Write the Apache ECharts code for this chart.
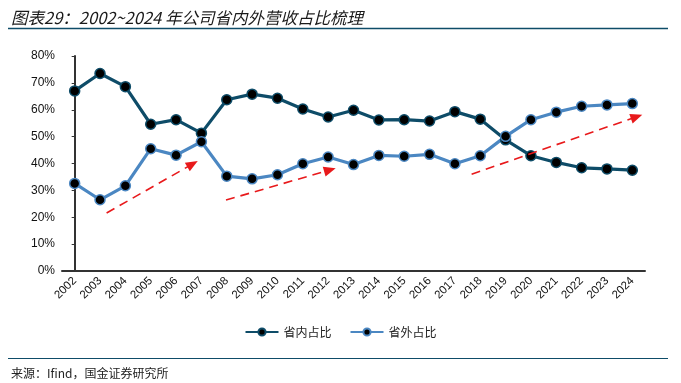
<!DOCTYPE html>
<html><head><meta charset="utf-8">
<script src="https://cdn.jsdelivr.net/npm/echarts@6/dist/echarts.min.js"></script>
<style>html,body{margin:0;padding:0;background:#fff}#c{width:681px;height:383px}</style>
</head><body><div id="c"></div>
<script>
const years = ['2002','2003','2004','2005','2006','2007','2008','2009','2010','2011','2012','2013','2014','2015','2016','2017','2018','2019','2020','2021','2022','2023','2024'];
const domestic = [67.0,73.5,68.6,54.6,56.3,51.3,63.7,65.8,64.3,60.3,57.3,59.8,56.2,56.3,55.8,59.3,56.5,48.8,42.9,40.4,38.4,38.0,37.5];
const outside  = [32.6,26.5,31.7,45.5,43.1,48.1,35.3,34.3,35.8,39.9,42.4,39.6,43.0,42.7,43.4,39.9,42.9,50.1,56.3,59.1,61.3,61.8,62.3];
const yTicks = [0,10,20,30,40,50,60,70,80];
// trend arrows: [startIndex, startValue, endIndex, endValue]
const arrows = [[1.26,21.6,4.65,39.8],[5.97,26.4,10.07,37.6],[15.66,36.0,22.17,57.4]];

const chart = echarts.init(document.getElementById('c'));
const C1 = '#0E4C68', C2 = '#4B87C2';
chart.setOption({
  animation:false,
  title:{text:'图表29：2002~2024 年公司省内外营收占比梳理',left:6,top:4,
    textStyle:{fontSize:16.5,fontStyle:'italic',fontWeight:'normal',color:'#1a1a1a',fontFamily:'Noto Sans CJK SC'}},
  graphic:[
    {type:'line',shape:{x1:8,y1:28.5,x2:668,y2:28.5},style:{stroke:'#0E4C68',lineWidth:1.6}},
    {type:'line',shape:{x1:8,y1:358.5,x2:668,y2:358.5},style:{stroke:'#0E4C68',lineWidth:1.2}},
    {type:'text',left:11,top:367,style:{text:'来源：Ifind，国金证券研究所',fontSize:12,fill:'#222',fontFamily:'Noto Sans CJK SC'}}
  ],
  legend:{top:321,left:'center',itemWidth:33,itemHeight:9,itemGap:18,
    textStyle:{fontSize:12,color:'#222',fontFamily:'Noto Sans CJK SC'},
    data:['省内占比','省外占比']},
  grid:{left:62,right:36,top:56,bottom:112},
  xAxis:[{type:'category',data:years,boundaryGap:true,
    axisLine:{lineStyle:{color:'#333',width:2}},
    axisTick:{inside:true,length:4,lineStyle:{color:'#333'}},
    axisLabel:{rotate:45,fontSize:11.5,color:'#111',margin:8,interval:0,fontFamily:'Liberation Sans'}},
    {type:'value',min:-0.5,max:22.5,show:false}],
  yAxis:{type:'value',min:0,max:80,interval:10,
    axisLine:{show:true,lineStyle:{color:'#333',width:2}},
    axisTick:{show:true,length:3,lineStyle:{color:'#333'}},
    splitLine:{show:false},
    axisLabel:{formatter:'{value}%',fontSize:12,color:'#111',margin:7,fontFamily:'Liberation Sans'}},
  series:[
    {name:'省内占比',type:'line',data:domestic,symbol:'circle',symbolSize:10,
      lineStyle:{color:C1,width:3.2},itemStyle:{color:'#000',borderColor:C1,borderWidth:1.5},z:3},
    {name:'省外占比',type:'line',data:outside,symbol:'circle',symbolSize:10,
      lineStyle:{color:C2,width:3.2},itemStyle:{color:'#000',borderColor:C2,borderWidth:1.5},z:3},
    {type:'line',xAxisIndex:1,data:[],silent:true,
      markLine:{silent:true,symbol:['none','triangle'],symbolSize:[10,12],
        lineStyle:{color:'#E8191B',type:[9,6],width:1.6},label:{show:false},
        data:arrows.map(a=>[{coord:[a[0],a[1]]},{coord:[a[2],a[3]]}])}}
  ]
});
</script></body></html>
